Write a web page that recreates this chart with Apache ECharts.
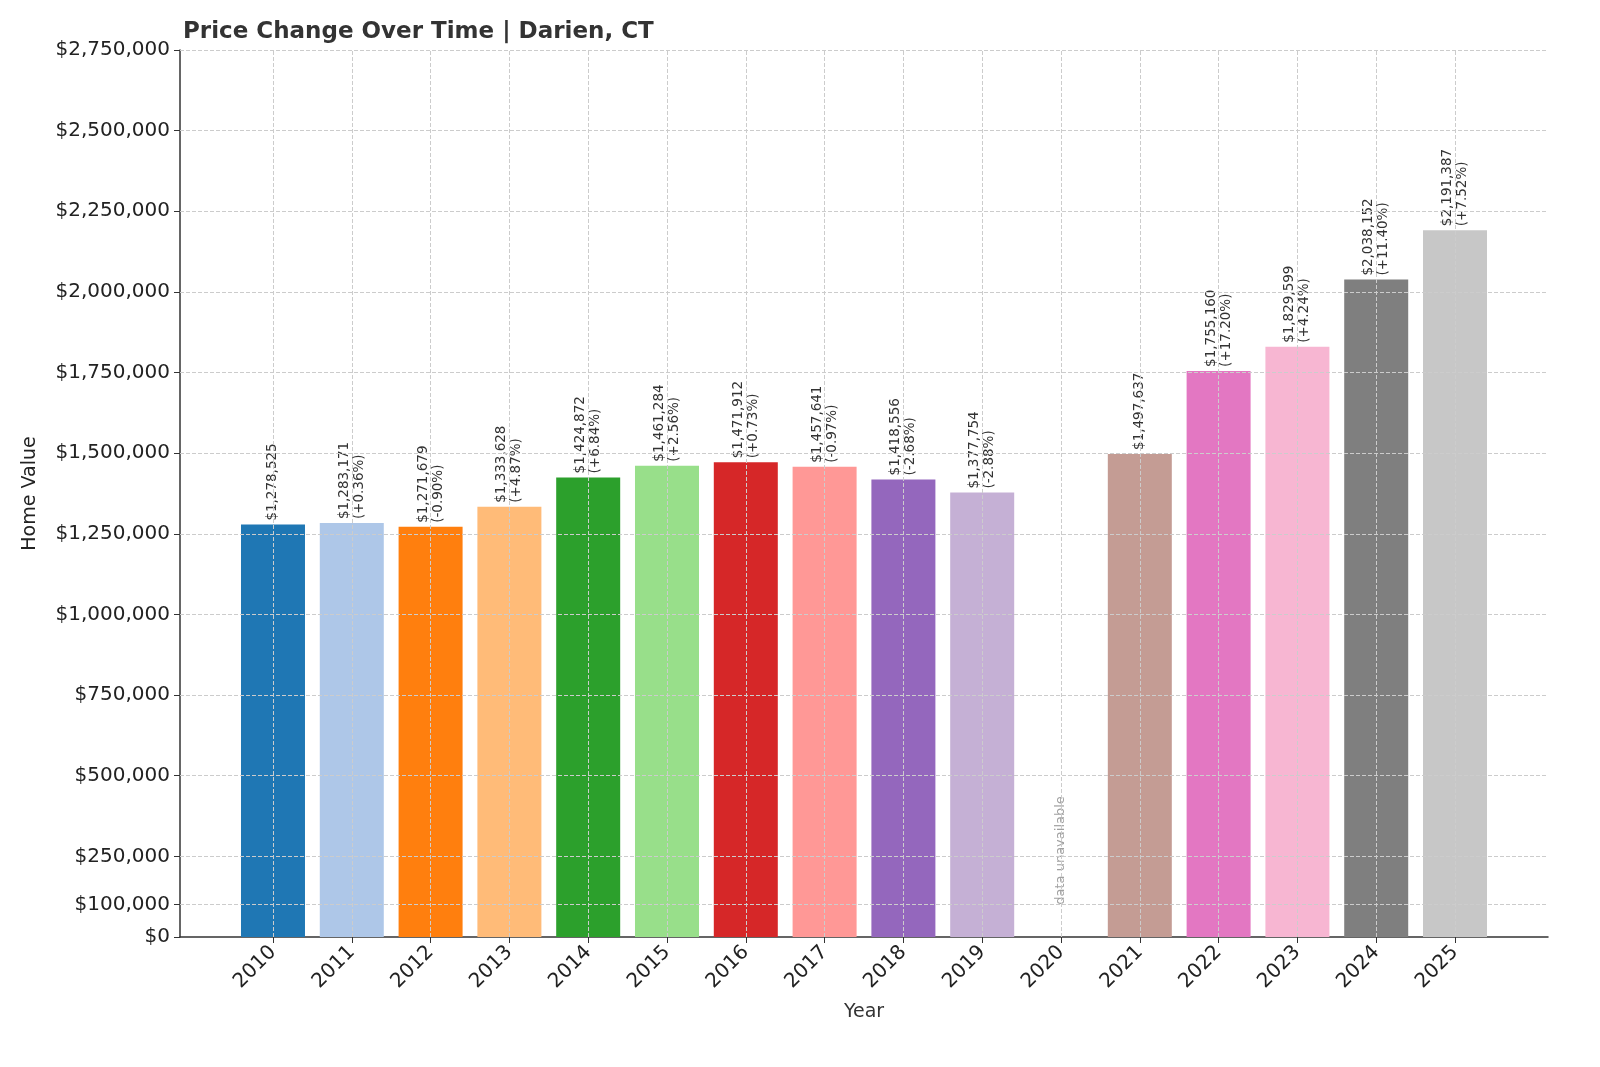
<!DOCTYPE html>
<html><head><meta charset="utf-8">
<script src="https://cdn.jsdelivr.net/npm/echarts@6/dist/echarts.min.js"></script>
<style>html,body{margin:0;padding:0;background:#fff}#c{width:1600px;height:1067px}</style>
</head><body><div id="c"></div>
<script>
const years = [2010,2011,2012,2013,2014,2015,2016,2017,2018,2019,2020,2021,2022,2023,2024,2025];
const values = [1278525,1283171,1271679,1333628,1424872,1461284,1471912,1457641,1418556,1377754,null,1497637,1755160,1829599,2038152,2191387];
const colors = ['#1f77b4','#aec7e8','#ff7f0e','#ffbb78','#2ca02c','#98df8a','#d62728','#ff9896','#9467bd','#c5b0d5','#8c564b','#c49c94','#e377c2','#f7b6d2','#7f7f7f','#c7c7c7'];
const yTicks = [0,100000,250000,500000,750000,1000000,1250000,1500000,1750000,2000000,2250000,2500000,2750000];
const missingLabel = 'data unavailable';

const fmt = v => '$' + v.toLocaleString('en-US');
const barData = [];
years.forEach((y,i)=>{
  const v = values[i];
  if (v == null) return;
  const p = values[i-1];
  let txt = fmt(v);
  if (p != null) { const c = (v/p-1)*100; txt += '\n(' + (c>=0?'+':'') + c.toFixed(2) + '%)'; }
  barData.push({value:[y,v], itemStyle:{color:colors[i]}, label:{formatter:txt}});
});
const missing = years.filter((y,i)=>values[i]==null).map(y=>[y,100000]);
const grid = {type:'dashed', color:'#cccccc', width:1};
const markLines = [...yTicks.filter(t=>t>0).map(t=>({yAxis:t})), ...years.map(y=>({xAxis:y}))];

const chart = echarts.init(document.getElementById('c'));
chart.setOption({
  animation:false,
  title:{text:'Price Change Over Time | Darien, CT', left:178, top:16, textStyle:{fontFamily:'DejaVu Sans', fontSize:23, fontWeight:'bold', color:'#333'}},
  grid:{left:180, right:52, top:50, bottom:130},
  xAxis:{type:'value', min:2008.82, max:2026.18, name:'Year', nameLocation:'middle', nameGap:66,
    nameTextStyle:{fontFamily:'DejaVu Sans', fontSize:19, color:'#333'},
    axisLine:{show:true, lineStyle:{color:'#333', width:1.5}}, splitLine:{show:false},
    axisTick:{show:true, customValues:years, length:6, lineStyle:{color:'#333'}},
    axisLabel:{customValues:years, rotate:45, fontFamily:'DejaVu Sans', fontSize:20, color:'#222', margin:12, formatter:v=>String(v)}},
  yAxis:{type:'value', min:0, max:2750000, name:'Home Value', nameLocation:'middle', nameGap:140,
    nameTextStyle:{fontFamily:'DejaVu Sans', fontSize:19, color:'#222'},
    axisLine:{show:true, lineStyle:{color:'#333', width:1.5}}, splitLine:{show:false},
    axisTick:{show:true, customValues:yTicks, length:6, lineStyle:{color:'#333'}},
    axisLabel:{customValues:yTicks, fontFamily:'DejaVu Sans', fontSize:20, color:'#222', margin:10, formatter:v=>fmt(v)}},
  series:[
    {type:'bar', barWidth:64, data:barData,
     label:{show:true, position:'top', rotate:90, align:'left', verticalAlign:'middle', distance:4, fontFamily:'DejaVu Sans', fontSize:13.5, color:'#333', lineHeight:15},
     markLine:{silent:true, symbol:'none', label:{show:false}, lineStyle:grid, data:markLines}},
    {type:'scatter', symbolSize:0, data:missing,
     label:{show:true, position:'inside', rotate:90, align:'left', verticalAlign:'middle', formatter:missingLabel, fontFamily:'DejaVu Sans', fontSize:13, color:'#888'}}
  ]
});
</script></body></html>
